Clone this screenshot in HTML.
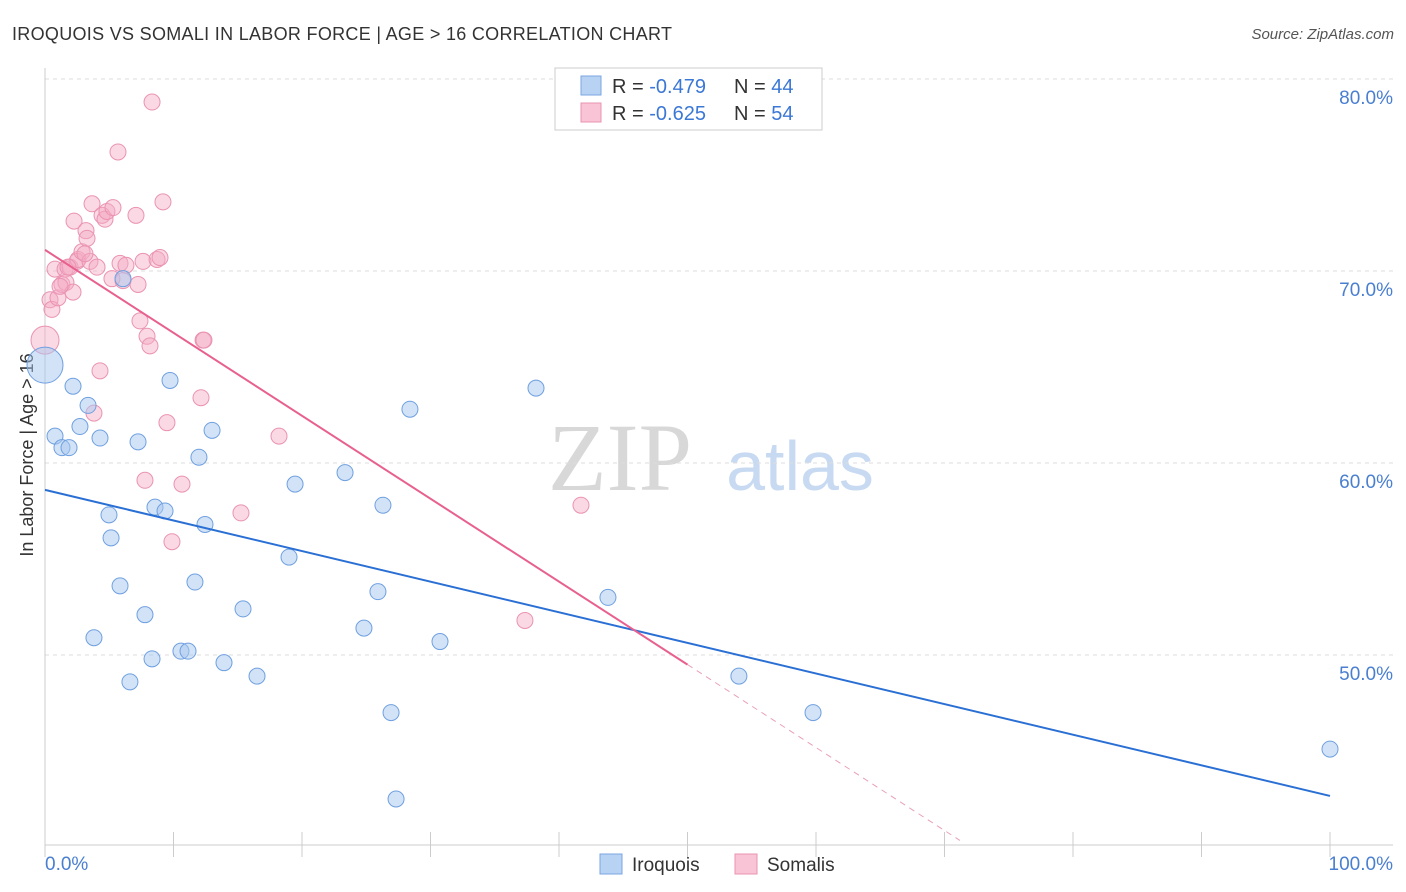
<!DOCTYPE html>
<html><head><meta charset="utf-8">
<style>
body{margin:0;background:#fff;font-family:"Liberation Sans",sans-serif;}
svg{display:block}
</style></head>
<body>
<svg id="chart" width="1406" height="892" xmlns="http://www.w3.org/2000/svg">
<text x="12" y="40" font-size="18" fill="#333" textLength="660">IROQUOIS VS SOMALI IN LABOR FORCE | AGE &gt; 16 CORRELATION CHART</text>
<text x="1394" y="39" font-size="15" fill="#555" font-style="italic" text-anchor="end">Source: ZipAtlas.com</text>
<text x="620" y="490" font-size="96" fill="#d8d8d8" font-family="Liberation Serif" text-anchor="middle">ZIP</text>
<text x="800" y="490" font-size="70" fill="#c8daf2" text-anchor="middle">atlas</text>
<g id="grid"></g>
<g id="axes"></g>
<text transform="translate(33,455) rotate(-90)" font-size="18" fill="#333" text-anchor="middle">In Labor Force | Age &gt; 16</text>
<g id="marks"></g>
<g>
<rect x="555" y="68" width="267" height="62" fill="#fff" stroke="#ccc"/>
<rect x="581" y="76" width="20" height="19" fill="#b8d2f4" stroke="#7aa6e0"/>
<text x="612" y="93" font-size="20" fill="#333">R = <tspan fill="#3b78d6">-0.479</tspan></text>
<text x="734" y="93" font-size="20" fill="#333">N = <tspan fill="#3b78d6">44</tspan></text>
<rect x="581" y="103" width="20" height="19" fill="#f8c4d6" stroke="#ea93b2"/>
<text x="612" y="120" font-size="20" fill="#333">R = <tspan fill="#3b78d6">-0.625</tspan></text>
<text x="734" y="120" font-size="20" fill="#333">N = <tspan fill="#3b78d6">54</tspan></text>
</g>
<g>
<rect x="600" y="854" width="22" height="20" fill="#b8d2f4" stroke="#7aa6e0"/>
<text x="632" y="871" font-size="19" fill="#333">Iroquois</text>
<rect x="735" y="854" width="22" height="20" fill="#f8c4d6" stroke="#ea93b2"/>
<text x="767" y="871" font-size="19" fill="#333">Somalis</text>
</g>
</svg>
<script>
const yTicks=[50,60,70,80];
const xTickLabels=["0.0%","100.0%"];
const iroX=[0,0.78,1.32,1.87,2.18,2.72,3.35,4.28,4.98,5.14,5.84,6.07,6.61,3.81,7.24,7.78,8.33,8.56,9.34,9.73,10.58,11.13,11.67,11.98,12.45,13.0,13.93,15.41,16.5,18.99,19.46,23.35,24.82,25.91,26.3,26.93,27.32,28.4,30.74,38.21,43.81,54.0,59.77,100];
const iroY=[65.1,61.4,60.8,60.8,64.0,61.9,63.0,61.3,57.3,56.1,53.6,69.6,48.6,50.9,61.1,52.1,49.8,57.7,57.5,64.3,50.2,50.2,53.8,60.3,56.8,61.7,49.6,52.4,48.9,55.1,58.9,59.5,51.4,53.3,57.8,47.0,42.5,62.8,50.7,63.9,53.0,48.9,47.0,45.1];
const somX=[0,.39,.54,.78,1.01,1.32,1.56,1.63,1.95,2.18,2.26,2.49,2.57,2.88,3.19,3.27,3.5,3.66,3.81,4.05,4.28,4.44,4.67,4.82,5.21,5.29,5.68,5.84,6.07,6.3,7.08,7.24,7.39,7.63,7.78,7.94,8.17,8.33,8.72,8.95,9.18,9.49,9.88,10.66,12.14,12.3,12.37,15.25,18.21,37.35,41.71,1.79,1.17,3.11];
const somY=[66.4,68.5,68.0,70.1,68.6,69.3,70.1,69.4,70.2,68.9,72.6,70.5,70.6,71.0,72.1,71.7,70.5,73.5,62.6,70.2,64.8,72.9,72.7,73.1,69.6,73.3,76.2,70.4,69.5,70.3,72.9,69.3,67.4,70.5,59.1,66.6,66.1,78.8,70.6,70.7,73.6,62.1,55.9,58.9,63.4,66.4,66.4,57.4,61.4,51.8,57.8,70.2,69.2,70.9];
const iroLine=[58.6,42.66];
const somLine=[71.1,49.5];
const somLineEndX=50;
const somDashEndX=71.2;

const NS="http://www.w3.org/2000/svg";
const xS=v=>45+v*12.85;
const yS=v=>79+(80-v)*19.2;
function mk(tag,attrs,parent){const e=document.createElementNS(NS,tag);for(const k in attrs)e.setAttribute(k,attrs[k]);parent.appendChild(e);return e;}
const grid=document.getElementById('grid'),axes=document.getElementById('axes'),marks=document.getElementById('marks');
yTicks.forEach(t=>{
 const l=mk('line',{x1:45,x2:1393,y1:yS(t),y2:yS(t),stroke:'#ddd','stroke-dasharray':'4,4'},grid);
 
 
 const tx=mk('text',{x:1393,y:yS(t)+25,'font-size':19,fill:'#4a7fd0','text-anchor':'end'},axes);
 tx.textContent=t.toFixed(1)+'%';
 
 
});
let a=mk('line',{x1:45,x2:45,y1:68,y2:845,stroke:'#ccc'},axes);


a=mk('line',{x1:45,x2:1393,y1:845,y2:845,stroke:'#ccc'},axes);


for(let i=0;i<=10;i++){const t=mk('line',{x1:xS(i*10),x2:xS(i*10),y1:832,y2:857,stroke:'#ccc'},axes);
 
 }
let xl=mk('text',{x:45,y:870,'font-size':19,fill:'#4a7fd0'},axes);xl.textContent=xTickLabels[0];


xl=mk('text',{x:1393,y:870,'font-size':19,fill:'#4a7fd0','text-anchor':'end'},axes);xl.textContent=xTickLabels[1];



somX.forEach((x,i)=>{const c=mk('circle',{cx:xS(x),cy:yS(somY[i]),r:i==0?14:8,fill:'rgba(245,170,196,0.45)',stroke:'#ea93b2','stroke-width':1},marks);
 
 });
iroX.forEach((x,i)=>{const c=mk('circle',{cx:xS(x),cy:yS(iroY[i]),r:i==0?18:8,fill:'rgba(168,200,240,0.5)',stroke:'#6fa0e0','stroke-width':1},marks);
 
 });
let ln=mk('line',{x1:xS(0),y1:yS(iroLine[0]),x2:xS(100),y2:yS(iroLine[1]),stroke:'#2a6fd4','stroke-width':2},marks);


ln=mk('line',{x1:xS(0),y1:yS(somLine[0]),x2:xS(somLineEndX),y2:yS(somLine[1]),stroke:'#e8608f','stroke-width':2},marks);


const slope=(somLine[1]-somLine[0])/somLineEndX;
ln=mk('line',{x1:xS(somLineEndX),y1:yS(somLine[1]),x2:xS(somDashEndX),y2:yS(somLine[0]+slope*somDashEndX),stroke:'#e8a0b8','stroke-width':1,'stroke-dasharray':'6,5'},marks);


</script>
</body></html>
